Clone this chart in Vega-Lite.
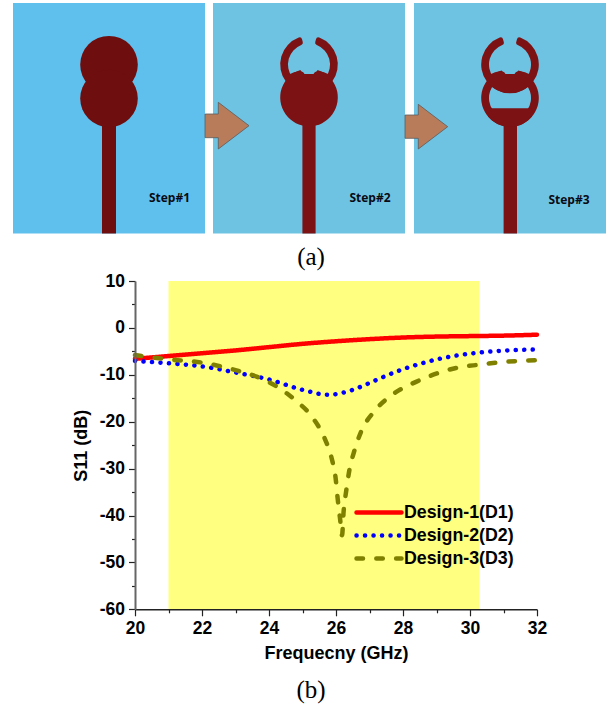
{
"$schema":"https://vega.github.io/schema/vega-lite/v6.json",
"width":610,"height":706,"padding":0,"autosize":{"type":"none"},"background":"white","view":{"stroke":null},
"datasets":{
"panel1":[{"x0":13,"x1":205,"y0":3,"y1":233.5}],
"panels23":[{"x0":213,"x1":405,"y0":3,"y1":233.5},{"x0":414,"x1":606,"y0":3,"y1":233.5}],
"feed1":[{"x0":102,"x1":116,"y0":122,"y1":233.5}],
"feed23":[{"x0":302.4,"x1":315.6,"y0":122,"y1":233.5},{"x0":503.6,"x1":517,"y0":122,"y1":233.5}],
"discs1":[{"cx":109,"cy":64.7},{"cx":109,"cy":98.5}],
"upper":[{"cx":309,"cy":64.5},{"cx":510,"cy":64.5}],
"lowerDisc":[{"cx":309,"cy":97.5}],
"lowerRing":[{"cx":510,"cy":98}],
"cap2":[{"x":287,"t":75,"b":100},{"x":289.5,"t":74.3,"b":100},{"x":294,"t":72.3,"b":100},{"x":300.5,"t":70.7,"b":100},{"x":303.5,"t":72.5,"b":100},{"x":304.5,"t":74,"b":100},{"x":313.5,"t":74,"b":100},{"x":314.5,"t":72.5,"b":100},{"x":317.5,"t":70.7,"b":100},{"x":324,"t":72.3,"b":100},{"x":328.5,"t":74.3,"b":100},{"x":331,"t":75,"b":100}],
"cap3":[{"x":488,"t":75,"b":83.1},{"x":490.5,"t":74.3,"b":85.6},{"x":495,"t":72.3,"b":89.1},{"x":501.5,"t":70.7,"b":91.9},{"x":504.5,"t":72.5,"b":92.8},{"x":505.5,"t":74,"b":92.9},{"x":514.5,"t":74,"b":92.9},{"x":515.5,"t":72.5,"b":92.8},{"x":518.5,"t":70.7,"b":91.9},{"x":525,"t":72.3,"b":89.1},{"x":529.5,"t":74.3,"b":85.6},{"x":532,"t":75,"b":83.1}],
"chord3":[{"x":488,"t":108.3,"b":116.6},{"x":492,"t":108.3,"b":120.5},{"x":498,"t":108.3,"b":124.2},{"x":504,"t":108.3,"b":126.2},{"x":510,"t":108.3,"b":126.8},{"x":516,"t":108.3,"b":126.2},{"x":522,"t":108.3,"b":124.2},{"x":528,"t":108.3,"b":120.5},{"x":532,"t":108.3,"b":116.6}],
"arrows":[
{"a":"1","x":205,"t":114,"b":137.7},{"a":"1","x":218.3,"t":114,"b":137.7},{"a":"1","x":218.3,"t":102.3,"b":149},{"a":"1","x":249,"t":125.7,"b":125.7},
{"a":"2","x":405,"t":115,"b":138.3},{"a":"2","x":418.3,"t":115,"b":138.3},{"a":"2","x":418.3,"t":104.3,"b":149},{"a":"2","x":447.7,"t":126.7,"b":126.7}],
"steps":[{"x":169.5,"y":198,"label":"Step#1"},{"x":370,"y":198,"label":"Step#2"},{"x":569,"y":200,"label":"Step#3"}],
"captions":[{"x":311,"y":257,"label":"(a)"},{"x":311,"y":690,"label":"(b)"}],
"band":[{"start":21,"end":30.28,"low":-60,"high":10}],
"curves":[
{"f":20,"s":-6.6,"d":"Design-1(D1)"},{"f":21,"s":-6.0,"d":"Design-1(D1)"},{"f":22,"s":-5.4,"d":"Design-1(D1)"},{"f":23,"s":-4.8,"d":"Design-1(D1)"},{"f":24,"s":-4.1,"d":"Design-1(D1)"},{"f":25,"s":-3.4,"d":"Design-1(D1)"},{"f":26,"s":-2.85,"d":"Design-1(D1)"},{"f":27,"s":-2.4,"d":"Design-1(D1)"},{"f":28,"s":-2.05,"d":"Design-1(D1)"},{"f":29,"s":-1.85,"d":"Design-1(D1)"},{"f":30,"s":-1.75,"d":"Design-1(D1)"},{"f":31,"s":-1.65,"d":"Design-1(D1)"},{"f":32,"s":-1.45,"d":"Design-1(D1)"},
{"f":20,"s":-7.05,"d":"Design-2(D2)"},{"f":21,"s":-7.55,"d":"Design-2(D2)"},{"f":22,"s":-8.2,"d":"Design-2(D2)"},{"f":23,"s":-9.5,"d":"Design-2(D2)"},{"f":24,"s":-11,"d":"Design-2(D2)"},{"f":25,"s":-13.2,"d":"Design-2(D2)"},{"f":25.77,"s":-14.25,"d":"Design-2(D2)"},{"f":26.5,"s":-13.2,"d":"Design-2(D2)"},{"f":27,"s":-11.75,"d":"Design-2(D2)"},{"f":27.5,"s":-10.2,"d":"Design-2(D2)"},{"f":28,"s":-8.8,"d":"Design-2(D2)"},{"f":28.64,"s":-7.4,"d":"Design-2(D2)"},{"f":29.14,"s":-6.5,"d":"Design-2(D2)"},{"f":29.64,"s":-5.85,"d":"Design-2(D2)"},{"f":30.15,"s":-5.35,"d":"Design-2(D2)"},{"f":30.9,"s":-4.9,"d":"Design-2(D2)"},{"f":32,"s":-4.6,"d":"Design-2(D2)"},
{"f":20,"s":-5.8,"d":"Design-3(D3)"},{"f":21,"s":-6.7,"d":"Design-3(D3)"},{"f":22,"s":-7.4,"d":"Design-3(D3)"},{"f":23,"s":-9,"d":"Design-3(D3)"},{"f":23.63,"s":-10.4,"d":"Design-3(D3)"},{"f":24.23,"s":-12.5,"d":"Design-3(D3)"},{"f":24.8,"s":-15.5,"d":"Design-3(D3)"},{"f":25.32,"s":-19.3,"d":"Design-3(D3)"},{"f":25.67,"s":-23.7,"d":"Design-3(D3)"},{"f":25.87,"s":-27.8,"d":"Design-3(D3)"},{"f":25.99,"s":-32.1,"d":"Design-3(D3)"},{"f":26.05,"s":-36.4,"d":"Design-3(D3)"},{"f":26.12,"s":-40.6,"d":"Design-3(D3)"},{"f":26.18,"s":-44.2,"d":"Design-3(D3)"},{"f":26.23,"s":-38.9,"d":"Design-3(D3)"},{"f":26.3,"s":-35,"d":"Design-3(D3)"},{"f":26.4,"s":-30.3,"d":"Design-3(D3)"},{"f":26.54,"s":-26.4,"d":"Design-3(D3)"},{"f":26.75,"s":-22.1,"d":"Design-3(D3)"},{"f":27.13,"s":-17.9,"d":"Design-3(D3)"},{"f":27.71,"s":-14.1,"d":"Design-3(D3)"},{"f":28.39,"s":-11.5,"d":"Design-3(D3)"},{"f":29.08,"s":-9.55,"d":"Design-3(D3)"},{"f":29.68,"s":-8.4,"d":"Design-3(D3)"},{"f":30.27,"s":-7.85,"d":"Design-3(D3)"},{"f":30.87,"s":-7.35,"d":"Design-3(D3)"},{"f":31.44,"s":-7.05,"d":"Design-3(D3)"},{"f":32,"s":-6.9,"d":"Design-3(D3)"}]
},
"resolve":{"scale":{"x":"independent","y":"independent"},"axis":{"x":"independent","y":"independent"}},
"layer":[
{"data":{"name":"panel1"},"mark":{"type":"rect","color":"#5FC0EE"},"encoding":{"x":{"field":"x0","type":"quantitative","axis":null,"scale":{"domain":[0,610],"range":[0,610]}},"x2":{"field":"x1"},"y":{"field":"y0","type":"quantitative","axis":null,"scale":{"domain":[0,706],"range":[0,706]}},"y2":{"field":"y1"}}},
{"data":{"name":"panels23"},"mark":{"type":"rect","color":"#6EC3E2"},"encoding":{"x":{"field":"x0","type":"quantitative","axis":null,"scale":{"domain":[0,610],"range":[0,610]}},"x2":{"field":"x1"},"y":{"field":"y0","type":"quantitative","axis":null,"scale":{"domain":[0,706],"range":[0,706]}},"y2":{"field":"y1"}}},
{"data":{"name":"arrows"},"mark":{"type":"area","color":"#B97C5A","stroke":"#5A5A5A","strokeWidth":0.8},"encoding":{"detail":{"field":"a"},"x":{"field":"x","type":"quantitative","axis":null,"scale":{"domain":[0,610],"range":[0,610]}},"y":{"field":"t","type":"quantitative","axis":null,"scale":{"domain":[0,706],"range":[0,706]}},"y2":{"field":"b"}}},
{"data":{"name":"feed1"},"mark":{"type":"rect","color":"#6F0E0E"},"encoding":{"x":{"field":"x0","type":"quantitative","axis":null,"scale":{"domain":[0,610],"range":[0,610]}},"x2":{"field":"x1"},"y":{"field":"y0","type":"quantitative","axis":null,"scale":{"domain":[0,706],"range":[0,706]}},"y2":{"field":"y1"}}},
{"data":{"name":"discs1"},"mark":{"type":"arc","color":"#6F0E0E","radius":28.8,"radius2":0,"theta":0,"theta2":6.2832},"encoding":{"x":{"field":"cx","type":"quantitative","axis":null,"scale":{"domain":[0,610],"range":[0,610]}},"y":{"field":"cy","type":"quantitative","axis":null,"scale":{"domain":[0,706],"range":[0,706]}}}},
{"data":{"name":"feed23"},"mark":{"type":"rect","color":"#7D1214"},"encoding":{"x":{"field":"x0","type":"quantitative","axis":null,"scale":{"domain":[0,610],"range":[0,610]}},"x2":{"field":"x1"},"y":{"field":"y0","type":"quantitative","axis":null,"scale":{"domain":[0,706],"range":[0,706]}},"y2":{"field":"y1"}}},
{"data":{"name":"upper"},"mark":{"type":"arc","color":"#7D1214","radius":28.8,"radius2":21,"theta":0.27,"theta2":6.013,"cornerRadius":2.5},"encoding":{"x":{"field":"cx","type":"quantitative","axis":null,"scale":{"domain":[0,610],"range":[0,610]}},"y":{"field":"cy","type":"quantitative","axis":null,"scale":{"domain":[0,706],"range":[0,706]}}}},
{"data":{"name":"lowerDisc"},"mark":{"type":"arc","color":"#7D1214","radius":28.8,"radius2":0,"theta":0.3,"theta2":5.983},"encoding":{"x":{"field":"cx","type":"quantitative","axis":null,"scale":{"domain":[0,610],"range":[0,610]}},"y":{"field":"cy","type":"quantitative","axis":null,"scale":{"domain":[0,706],"range":[0,706]}}}},
{"data":{"name":"lowerRing"},"mark":{"type":"arc","color":"#7D1214","radius":28.8,"radius2":21,"theta":0.3,"theta2":5.983},"encoding":{"x":{"field":"cx","type":"quantitative","axis":null,"scale":{"domain":[0,610],"range":[0,610]}},"y":{"field":"cy","type":"quantitative","axis":null,"scale":{"domain":[0,706],"range":[0,706]}}}},
{"data":{"name":"cap2"},"mark":{"type":"area","color":"#7D1214"},"encoding":{"x":{"field":"x","type":"quantitative","axis":null,"scale":{"domain":[0,610],"range":[0,610]}},"y":{"field":"t","type":"quantitative","axis":null,"scale":{"domain":[0,706],"range":[0,706]}},"y2":{"field":"b"}}},
{"data":{"name":"cap3"},"mark":{"type":"area","color":"#7D1214"},"encoding":{"x":{"field":"x","type":"quantitative","axis":null,"scale":{"domain":[0,610],"range":[0,610]}},"y":{"field":"t","type":"quantitative","axis":null,"scale":{"domain":[0,706],"range":[0,706]}},"y2":{"field":"b"}}},
{"data":{"name":"chord3"},"mark":{"type":"area","color":"#7D1214"},"encoding":{"x":{"field":"x","type":"quantitative","axis":null,"scale":{"domain":[0,610],"range":[0,610]}},"y":{"field":"t","type":"quantitative","axis":null,"scale":{"domain":[0,706],"range":[0,706]}},"y2":{"field":"b"}}},
{"data":{"name":"steps"},"mark":{"type":"text","font":"Open Sans","fontWeight":"bold","fontSize":12,"color":"#0A0A14"},"encoding":{"text":{"field":"label"},"x":{"field":"x","type":"quantitative","axis":null,"scale":{"domain":[0,610],"range":[0,610]}},"y":{"field":"y","type":"quantitative","axis":null,"scale":{"domain":[0,706],"range":[0,706]}}}},
{"data":{"name":"captions"},"mark":{"type":"text","font":"Liberation Serif","fontSize":25,"color":"#000000"},"encoding":{"text":{"field":"label"},"x":{"field":"x","type":"quantitative","axis":null,"scale":{"domain":[0,610],"range":[0,610]}},"y":{"field":"y","type":"quantitative","axis":null,"scale":{"domain":[0,706],"range":[0,706]}}}},
{"data":{"name":"band"},"mark":{"type":"rect","color":"#FFFF80"},"encoding":{
"x":{"field":"start","type":"quantitative","scale":{"domain":[20,32],"range":[135,537],"nice":false,"zero":false},"axis":{"orient":"bottom","offset":-96.7,"values":[21,23,25,27,29,31],"labels":false,"domain":false,"title":null,"grid":false,"tickSize":3.5,"tickColor":"#222222","tickWidth":1.2}},
"x2":{"field":"end"},
"y":{"field":"low","type":"quantitative","scale":{"domain":[-60,10],"range":[609.3,281],"nice":false,"zero":false},"axis":{"orient":"left","offset":-135,"values":[5,-5,-15,-25,-35,-45,-55],"labels":false,"domain":false,"title":null,"grid":false,"tickSize":3.5,"tickColor":"#222222","tickWidth":1.2}},
"y2":{"field":"high"}}},
{"data":{"name":"curves"},"mark":{"type":"line","strokeWidth":4.5,"strokeCap":"round","interpolate":"monotone","clip":false},"encoding":{
"x":{"field":"f","type":"quantitative","scale":{"domain":[20,32],"range":[135,537],"nice":false,"zero":false},"axis":{"orient":"bottom","offset":-96.7,"zindex":1,"values":[20,22,24,26,28,30,32],"title":"Frequecny (GHz)","grid":false,"domainColor":"#222222","domainWidth":1.6,"tickColor":"#222222","tickWidth":1.2,"tickSize":6.5,"labelFont":"Liberation Sans","labelFontWeight":"bold","labelFontSize":17.5,"labelColor":"#000000","labelPadding":4,"labelFlush":false,"labelOverlap":false,"titleFont":"Liberation Sans","titleFontWeight":"bold","titleFontSize":18,"titleColor":"#000000","titlePadding":7}},
"y":{"field":"s","type":"quantitative","scale":{"domain":[-60,10],"range":[609.3,281],"nice":false,"zero":false},"axis":{"orient":"left","offset":-135,"zindex":1,"values":[10,0,-10,-20,-30,-40,-50,-60],"labelExpr":"'' + datum.value","title":"S11 (dB)","grid":false,"domainColor":"#666666","domainWidth":2,"tickColor":"#222222","tickWidth":1.2,"tickSize":6.5,"labelFont":"Liberation Sans","labelFontWeight":"bold","labelFontSize":17.5,"labelColor":"#000000","labelPadding":4,"labelFlush":false,"labelOverlap":false,"titleFont":"Liberation Sans","titleFontWeight":"bold","titleFontSize":18,"titleColor":"#000000","titlePadding":9}},
"color":{"field":"d","type":"nominal","scale":{"domain":["Design-1(D1)","Design-2(D2)","Design-3(D3)"],"range":["#FF0000","#0000FF","#808000"]},"legend":{"orient":"none","legendX":354,"legendY":503,"title":null,"symbolType":"stroke","symbolSize":2025,"symbolStrokeWidth":4.5,"labelFont":"Liberation Sans","labelFontWeight":"bold","labelFontSize":17.8,"labelColor":"#000000","labelOffset":0,"rowPadding":4,"clipHeight":19,"padding":0,"encoding":{"symbols":{"strokeCap":{"value":"round"}}}}},
"strokeDash":{"field":"d","type":"nominal","scale":{"domain":["Design-1(D1)","Design-2(D2)","Design-3(D3)"],"range":[[1,0],[0.1,8.4],[6.5,13.3]]},"legend":{"orient":"none","legendX":354,"legendY":503,"title":null,"symbolType":"stroke","symbolSize":2025,"symbolStrokeWidth":4.5,"labelFont":"Liberation Sans","labelFontWeight":"bold","labelFontSize":17.8,"labelColor":"#000000","labelOffset":0,"rowPadding":4,"clipHeight":19,"padding":0,"encoding":{"symbols":{"strokeCap":{"value":"round"}}}}}}}
]
}
